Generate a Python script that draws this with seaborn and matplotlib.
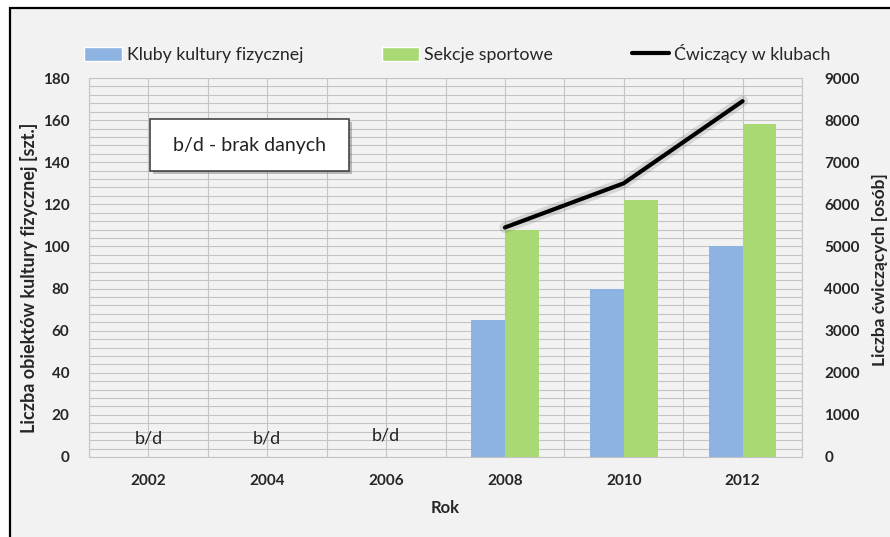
import numpy as np
import pandas as pd
import matplotlib
matplotlib.use('Agg')
import matplotlib.pyplot as plt
import matplotlib.patheffects as pe
from matplotlib.patches import Rectangle, Patch
from matplotlib.lines import Line2D
import seaborn as sns

# --- Data ---
years = ['2002', '2004', '2006', '2008', '2010', '2012']
kluby = [np.nan, np.nan, np.nan, 65, 80, 100]
sekcje = [np.nan, np.nan, np.nan, 108, 122, 158]
line_years = ['2008', '2010', '2012']
cwiczacy = [5450, 6500, 8450]
bd_years = ['2002', '2004', '2006']
bd_values = [9, 9, 10]

LABEL_K = 'Kluby kultury fizycznej'
LABEL_S = 'Sekcje sportowe'
LABEL_C = 'Ćwiczący w klubach'

BLUE = '#8DB3E2'
GREEN = '#A9D973'
BG = '#F2F2F2'
GRID = '#C4C4C4'

sns.set_theme(style='white')
plt.rcParams['font.family'] = ['Lato', 'DejaVu Sans']

df = pd.DataFrame({
    'Rok': years * 2,
    'Wartosc': kluby + sekcje,
    'Seria': [LABEL_K] * len(years) + [LABEL_S] * len(years),
})

fig = plt.figure(figsize=(8.9, 5.37), dpi=100)
fig.patch.set_facecolor('white')
# outer chart frame
fig.patches.append(Rectangle((10 / 890, -0.05), 1.0, 1 - 8 / 537 + 0.05,
                             transform=fig.transFigure, facecolor=BG,
                             edgecolor='black', linewidth=1.6, zorder=-10))

ax = fig.add_axes([89 / 890, 80 / 537, 713 / 890, 379 / 537])
ax.set_facecolor(BG)

sns.barplot(data=df, x='Rok', y='Wartosc', hue='Seria', order=years,
            hue_order=[LABEL_K, LABEL_S], palette=[BLUE, GREEN],
            width=0.57, saturation=1, linewidth=0, ax=ax, legend=False,
            zorder=3)

ax.set_ylim(0, 180)
ax.set_xlim(-0.5, len(years) - 0.5)
ax.set_yticks(range(0, 181, 20))
ax.set_yticks(range(0, 181, 4), minor=True)
ax.set_xticks(np.arange(-0.5, len(years), 0.5), minor=True)
ax.grid(True, which='both', color=GRID, linewidth=0.8, zorder=0)
ax.set_axisbelow(True)
for s in ax.spines.values():
    s.set_color(GRID)
    s.set_linewidth(0.8)
ax.tick_params(which='both', length=0)
ax.tick_params(axis='y', pad=14, labelsize=11)
ax.tick_params(axis='x', pad=12, labelsize=11)
for lbl in ax.get_xticklabels() + ax.get_yticklabels():
    lbl.set_fontweight('bold')

ax.set_xlabel('Rok', fontsize=12, fontweight='bold', labelpad=9)
ax.set_ylabel('Liczba obiektów kultury fizycznej [szt.]', fontsize=13,
              fontweight='bold')
ax.yaxis.set_label_coords(-0.0715, 0.472)

# b/d labels for years without data
for yr, v in zip(bd_years, bd_values):
    ax.text(years.index(yr), v, 'b/d', ha='center', va='center',
            fontsize=13, color='#222222', zorder=5)

# note box
ax.add_patch(Rectangle((0.0855, 0.7546), 0.279, 0.1372, transform=ax.transAxes,
                       facecolor='white', edgecolor='#444444', linewidth=1.2,
                       zorder=6,
                       path_effects=[pe.withSimplePatchShadow(offset=(2, -2),
                                                              alpha=0.35)]))
ax.text(0.225, 0.823, 'b/d - brak danych', transform=ax.transAxes,
        ha='center', va='center', fontsize=14, color='#222222', zorder=7)

# secondary axis: number of people exercising
ax2 = ax.twinx()
x_line = [years.index(y) for y in line_years]
sns.lineplot(x=x_line, y=cwiczacy, color='black', linewidth=3, ax=ax2,
             zorder=4,
             path_effects=[pe.SimpleLineShadow(offset=(0, 0), alpha=0.12,
                                               linewidth=8), pe.Normal()])
ax2.set_ylim(0, 9000)
ax2.set_yticks(range(0, 9001, 1000))
ax2.tick_params(length=0, pad=16, labelsize=11)
for lbl in ax2.get_yticklabels():
    lbl.set_fontweight('bold')
for s in ax2.spines.values():
    s.set_visible(False)
ax2.set_ylabel('Liczba ćwiczących [osób]', fontsize=12.5, fontweight='bold')
ax2.yaxis.set_label_coords(1.098, 0.495)
ax2.grid(False)

# legend across the top
handles = [Patch(facecolor=BLUE, label=LABEL_K),
           Patch(facecolor=GREEN, label=LABEL_S),
           Line2D([0], [0], color='black', linewidth=3, label=LABEL_C)]
fig.legend(handles=handles, loc='center', bbox_to_anchor=(0.514, 0.90),
           ncol=3, frameon=False, fontsize=12.8, columnspacing=4.4,
           handlelength=2.1, handleheight=0.9, handletextpad=0.3)

fig.savefig('out.png', dpi=100, facecolor=fig.get_facecolor())
